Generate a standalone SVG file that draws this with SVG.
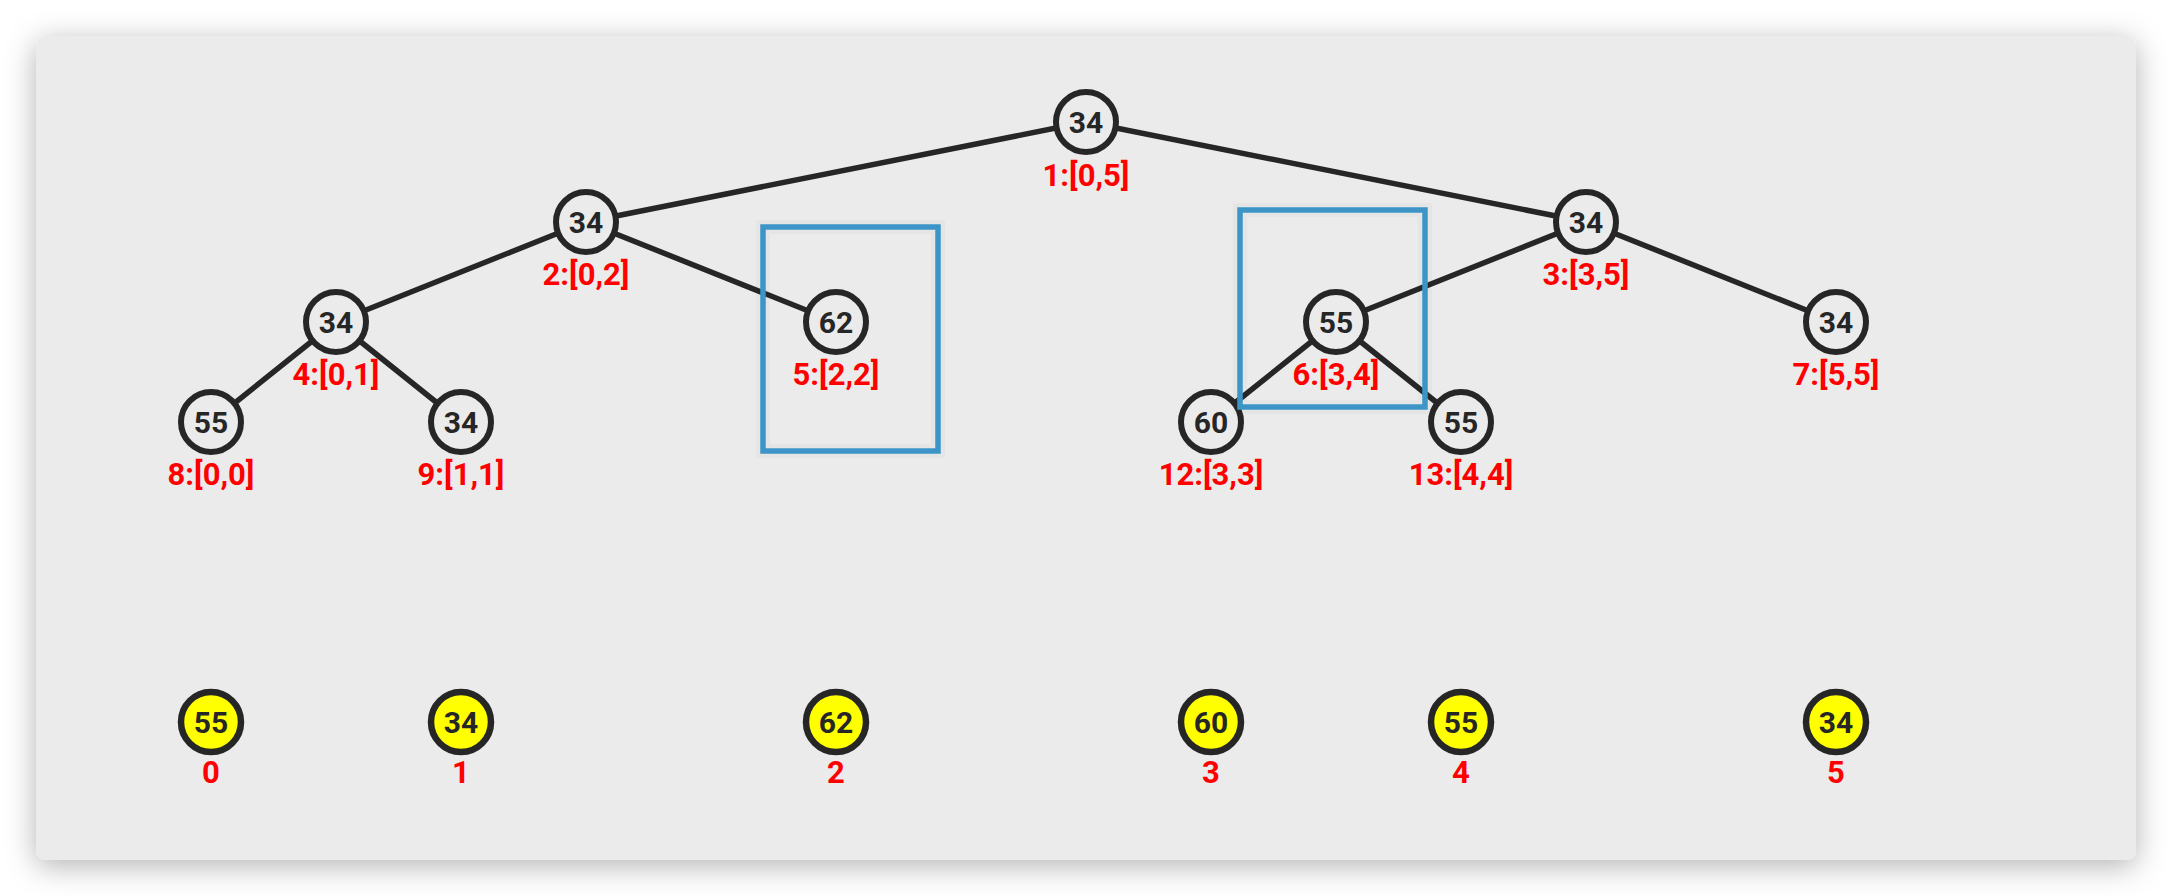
<svg xmlns="http://www.w3.org/2000/svg" width="2172" height="896" viewBox="0 0 2172 896">
<defs>
<filter id="shadow" x="-5%" y="-12%" width="110%" height="130%">
<feDropShadow dx="0" dy="6" stdDeviation="15" flood-color="#000" flood-opacity="0.3"/>
</filter>
<style>
.node circle{fill:#ebebeb;stroke:#262626;stroke-width:6}
.arr circle{fill:#ffff00;stroke:#262626;stroke-width:6.5}
.val{font-family:Roboto,"Open Sans",sans-serif;font-weight:bold;font-size:30px;fill:#262626;text-anchor:middle}
.lbl{font-family:Roboto,"Open Sans",sans-serif;font-weight:bold;font-size:31px;fill:#ff0000;text-anchor:middle}
#connectors line{stroke:#262626;stroke-width:5.5;stroke-linecap:round}
.hl{fill:none;stroke:#3d95c7;stroke-width:5.5}
.halo{fill:none;stroke:#000;stroke-opacity:0.025;stroke-width:14}
</style>
</defs>
<rect x="0" y="0" width="2172" height="896" fill="#ffffff"/>
<rect x="36" y="36" width="2100" height="824" rx="10" fill="#ebebeb" filter="url(#shadow)"/>
<g id="connectors">
<line x1="1086" y1="122" x2="586" y2="222"/>
<line x1="1086" y1="122" x2="1586" y2="222"/>
<line x1="586" y1="222" x2="336" y2="322"/>
<line x1="586" y1="222" x2="836" y2="322"/>
<line x1="336" y1="322" x2="211" y2="422"/>
<line x1="336" y1="322" x2="461" y2="422"/>
<line x1="1586" y1="222" x2="1336" y2="322"/>
<line x1="1586" y1="222" x2="1836" y2="322"/>
<line x1="1336" y1="322" x2="1211" y2="422"/>
<line x1="1336" y1="322" x2="1461" y2="422"/>
</g>
<g id="n1" class="node"><circle cx="1086" cy="122" r="30"/><text class="val" x="1086" y="133">34</text><text class="lbl" x="1086" y="186">1:[0,5]</text></g>
<g id="n2" class="node"><circle cx="586" cy="222" r="30"/><text class="val" x="586" y="233">34</text><text class="lbl" x="586" y="285">2:[0,2]</text></g>
<g id="n3" class="node"><circle cx="1586" cy="222" r="30"/><text class="val" x="1586" y="233">34</text><text class="lbl" x="1586" y="285">3:[3,5]</text></g>
<g id="n4" class="node"><circle cx="336" cy="322" r="30"/><text class="val" x="336" y="333">34</text><text class="lbl" x="336" y="385">4:[0,1]</text></g>
<g id="n5" class="node"><circle cx="836" cy="322" r="30"/><text class="val" x="836" y="333">62</text><text class="lbl" x="836" y="385">5:[2,2]</text></g>
<g id="n6" class="node"><circle cx="1336" cy="322" r="30"/><text class="val" x="1336" y="333">55</text><text class="lbl" x="1336" y="385">6:[3,4]</text></g>
<g id="n7" class="node"><circle cx="1836" cy="322" r="30"/><text class="val" x="1836" y="333">34</text><text class="lbl" x="1836" y="385">7:[5,5]</text></g>
<g id="n8" class="node"><circle cx="211" cy="422" r="30"/><text class="val" x="211" y="433">55</text><text class="lbl" x="211" y="485">8:[0,0]</text></g>
<g id="n9" class="node"><circle cx="461" cy="422" r="30"/><text class="val" x="461" y="433">34</text><text class="lbl" x="461" y="485">9:[1,1]</text></g>
<g id="n12" class="node"><circle cx="1211" cy="422" r="30"/><text class="val" x="1211" y="433">60</text><text class="lbl" x="1211" y="485">12:[3,3]</text></g>
<g id="n13" class="node"><circle cx="1461" cy="422" r="30"/><text class="val" x="1461" y="433">55</text><text class="lbl" x="1461" y="485">13:[4,4]</text></g>
<g id="highlights">
<rect class="halo" x="763" y="227" width="175" height="224"/>
<rect class="hl" x="763" y="227" width="175" height="224"/>
<rect class="halo" x="1240" y="210" width="185" height="197"/>
<rect class="hl" x="1240" y="210" width="185" height="197"/>
</g>
<g id="a0" class="arr"><circle cx="211" cy="722" r="30"/><text class="val" x="211" y="733">55</text><text class="lbl" x="211" y="783">0</text></g>
<g id="a1" class="arr"><circle cx="461" cy="722" r="30"/><text class="val" x="461" y="733">34</text><text class="lbl" x="461" y="783">1</text></g>
<g id="a2" class="arr"><circle cx="836" cy="722" r="30"/><text class="val" x="836" y="733">62</text><text class="lbl" x="836" y="783">2</text></g>
<g id="a3" class="arr"><circle cx="1211" cy="722" r="30"/><text class="val" x="1211" y="733">60</text><text class="lbl" x="1211" y="783">3</text></g>
<g id="a4" class="arr"><circle cx="1461" cy="722" r="30"/><text class="val" x="1461" y="733">55</text><text class="lbl" x="1461" y="783">4</text></g>
<g id="a5" class="arr"><circle cx="1836" cy="722" r="30"/><text class="val" x="1836" y="733">34</text><text class="lbl" x="1836" y="783">5</text></g>
</svg>
